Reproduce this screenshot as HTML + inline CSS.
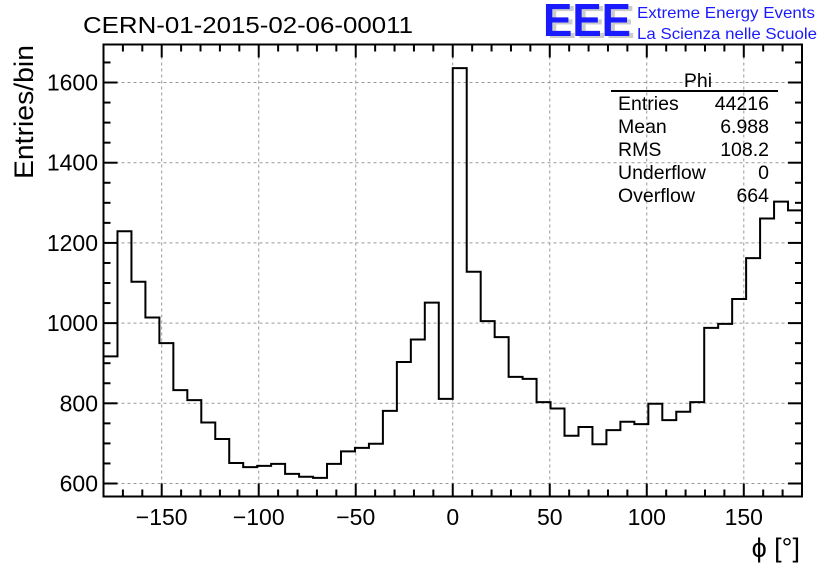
<!DOCTYPE html>
<html><head><meta charset="utf-8"><style>
body{margin:0;background:#fff;}
svg{display:block;font-family:"Liberation Sans",Arial,sans-serif;}
</style></head><body>
<svg id="c" width="836" height="572" viewBox="0 0 836 572">
<rect x="0" y="0" width="836" height="572" fill="#fff"/>
<text x="83" y="33" font-size="23" textLength="330" lengthAdjust="spacingAndGlyphs">CERN-01-2015-02-06-00011</text>
<g>
<text x="547" y="38" font-size="46" font-weight="bold" fill="#ccc" textLength="88" lengthAdjust="spacingAndGlyphs">EEE</text>
<text x="543" y="36" font-size="46" font-weight="bold" fill="#1a1aff" textLength="88" lengthAdjust="spacingAndGlyphs">EEE</text>
</g>
<text x="637" y="18" font-size="16" fill="#1a1aff" textLength="178" lengthAdjust="spacingAndGlyphs">Extreme Energy Events</text>
<text x="637" y="39" font-size="16" fill="#1a1aff" textLength="180" lengthAdjust="spacingAndGlyphs">La Scienza nelle Scuole</text>
<g id="grid"></g>
<g id="axes"></g>
<path id="hist" fill="none" stroke="#000" stroke-width="2"/>
<rect x="103.5" y="44.5" width="698.5" height="452" fill="none" stroke="#000" stroke-width="2"/>
<text transform="translate(33,179) rotate(-90)" font-size="27" textLength="134" lengthAdjust="spacingAndGlyphs">Entries/bin</text>
<text x="800" y="557" font-size="27" text-anchor="end">ϕ [°]</text>
<g font-size="19.5">
<text x="698" y="87" text-anchor="middle">Phi</text>
<line x1="611" y1="91" x2="778" y2="91" stroke="#000" stroke-width="2"/>
<text x="618" y="110">Entries</text><text x="769" y="110" text-anchor="end">44216</text>
<text x="618" y="133">Mean</text><text x="769" y="133" text-anchor="end">6.988</text>
<text x="618" y="156">RMS</text><text x="769" y="156" text-anchor="end">108.2</text>
<text x="618" y="179">Underflow</text><text x="769" y="179" text-anchor="end">0</text>
<text x="618" y="202">Overflow</text><text x="769" y="202" text-anchor="end">664</text>
</g>
</svg>
<script>
const binCounts=[917,1229,1103,1014,950,833,808,752,711,651,641,644,649,624,617,614,649,680,689,699,781,903,959,1051,811,1636,1128,1005,965,866,861,803,787,719,741,698,733,754,748,799,758,779,803,988,998,1060,1162,1261,1303,1281];
const xTicks=[-150,-100,-50,0,50,100,150];
const yTicks=[600,800,1000,1200,1400,1600];
const xMin=-180,xMax=180,yMin=567.6,yMax=1694.8;
const L=103.5,R=802,T=44.5,B=496.5;
function X(v){return L+(v-xMin)/(xMax-xMin)*(R-L);}
function Y(v){return B-(v-yMin)/(yMax-yMin)*(B-T);}
const NS="http://www.w3.org/2000/svg";
function mk(tag,attrs,parent){const e=document.createElementNS(NS,tag);for(const k in attrs)e.setAttribute(k,attrs[k]);parent.appendChild(e);return e;}
const grid=document.getElementById('grid'),axes=document.getElementById('axes');
xTicks.forEach(t=>{
 const g=mk('line',{x1:X(t),x2:X(t),y1:T,y2:B,stroke:'#999','stroke-dasharray':'3,3','stroke-width':1},grid);
 
 
 const lb=mk('text',{x:X(t),y:525,'font-size':23,'text-anchor':'middle'},axes);
 lb.textContent=t<0?'\u2212'+(-t):String(t);
 
 
});
yTicks.forEach(t=>{
 const g=mk('line',{x1:L,x2:R,y1:Y(t),y2:Y(t),stroke:'#999','stroke-dasharray':'3,3','stroke-width':1},grid);
 
 
 const lb=mk('text',{x:98,y:Y(t)+8,'font-size':23,'text-anchor':'end'},axes);
 lb.textContent=String(t);
 
 
});
for(let v=-180;v<=180;v+=10){
 const len=(v%50===0)?13:7;
 mk('line',{x1:X(v),x2:X(v),y1:B,y2:B-len,stroke:'#000','stroke-width':2},axes);
 mk('line',{x1:X(v),x2:X(v),y1:T,y2:T+len,stroke:'#000','stroke-width':2},axes);
}
for(let v=600;v<=1650;v+=50){
 const len=(v%200===0)?14:7;
 mk('line',{x1:L,x2:L+len,y1:Y(v),y2:Y(v),stroke:'#000','stroke-width':2},axes);
 mk('line',{x1:R,x2:R-len,y1:Y(v),y2:Y(v),stroke:'#000','stroke-width':2},axes);
}
const w=(xMax-xMin)/binCounts.length;
let d='';
binCounts.forEach((c,i)=>{
 const x0=X(xMin+i*w),x1=X(xMin+(i+1)*w),y=Y(c);
 d+=(i===0?'M'+x0+','+B+'L'+x0+','+y:'L'+x0+','+y)+'L'+x1+','+y;
});
d+='L'+X(xMax)+','+B;
document.getElementById('hist').setAttribute('d',d);
</script>
</body></html>
